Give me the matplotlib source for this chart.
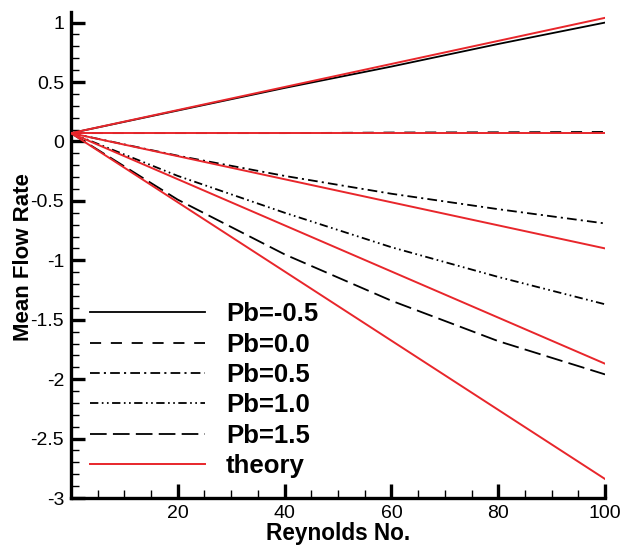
import matplotlib
matplotlib.use("Agg")
import matplotlib.pyplot as plt
from matplotlib.ticker import MultipleLocator, FormatStrFormatter

plt.rcParams['font.family'] = ['Liberation Sans', 'DejaVu Sans']
plt.rcParams['axes.unicode_minus'] = False
plt.rcParams['lines.scale_dashes'] = False

# simulation results
re_sim = [0, 20, 40, 60, 80, 100]
q_pb_m05 = [0.07, 0.26, 0.45, 0.63, 0.82, 1.00]
q_pb_00 = [0.07, 0.07, 0.07, 0.075, 0.077, 0.08]
q_pb_05 = [0.07, -0.12, -0.29, -0.44, -0.57, -0.69]
q_pb_10 = [0.07, -0.29, -0.60, -0.89, -1.14, -1.37]
q_pb_15 = [0.07, -0.49, -0.95, -1.34, -1.68, -1.96]

sim_labels = ["Pb=-0.5", "Pb=0.0", "Pb=0.5", "Pb=1.0", "Pb=1.5"]

# theory lines (straight)
re_theory = [0, 100]
q_theory = [
    [0.07, 1.04],
    [0.07, 0.07],
    [0.07, -0.90],
    [0.07, -1.87],
    [0.07, -2.84],
]

fig = plt.figure(figsize=(6.21, 5.45), dpi=100)
ax = fig.add_axes([0.1143, 0.0862, 0.86, 0.892])

styles = [
    (None, None),
    (0, (8, 7)),
    (0, (7, 3, 1.5, 3)),
    (0, (6, 2.5, 1.2, 2.5, 1.2, 2.5)),
    (0, (12, 4.5)),
]
sims = [q_pb_m05, q_pb_00, q_pb_05, q_pb_10, q_pb_15]
for q, lab, ls in zip(sims, sim_labels, styles):
    if ls[0] is None:
        ax.plot(re_sim, q, color='black', lw=1.3, label=lab)
    else:
        ax.plot(re_sim, q, color='black', lw=1.3, linestyle=ls, label=lab)

for i, q in enumerate(q_theory):
    ax.plot(re_theory, q, color='#e8262b', lw=1.4, zorder=3,
            label="theory" if i == 0 else None)

ax.set_xlim(0, 100)
ax.set_ylim(-3, 1.09)
ax.set_xticks([20, 40, 60, 80, 100])
ax.xaxis.set_minor_locator(MultipleLocator(5))
ax.yaxis.set_major_locator(MultipleLocator(0.5))
ax.yaxis.set_minor_locator(MultipleLocator(0.1))
ax.yaxis.set_major_formatter(FormatStrFormatter('%g'))

for s in ['top', 'right']:
    ax.spines[s].set_visible(False)
for s in ['left', 'bottom']:
    ax.spines[s].set_linewidth(2.4)

ax.tick_params(which='major', direction='in', length=10, width=2.4, labelsize=14, pad=5)
ax.tick_params(which='minor', direction='in', length=5.5, width=1.0)

ax.set_xlabel("Reynolds No.", fontsize=16.3, fontweight='bold', labelpad=0)
ax.set_ylabel("Mean Flow Rate", fontsize=16, fontweight='bold')
ax.yaxis.set_label_coords(-0.07, 0.495)

ax.legend(loc='lower left', bbox_to_anchor=(-0.008, -0.006), frameon=False,
          prop={'size': 18.5, 'weight': 'bold'}, handlelength=4.5,
          handletextpad=0.8, labelspacing=0.245)

fig.savefig("out.png", dpi=100)
